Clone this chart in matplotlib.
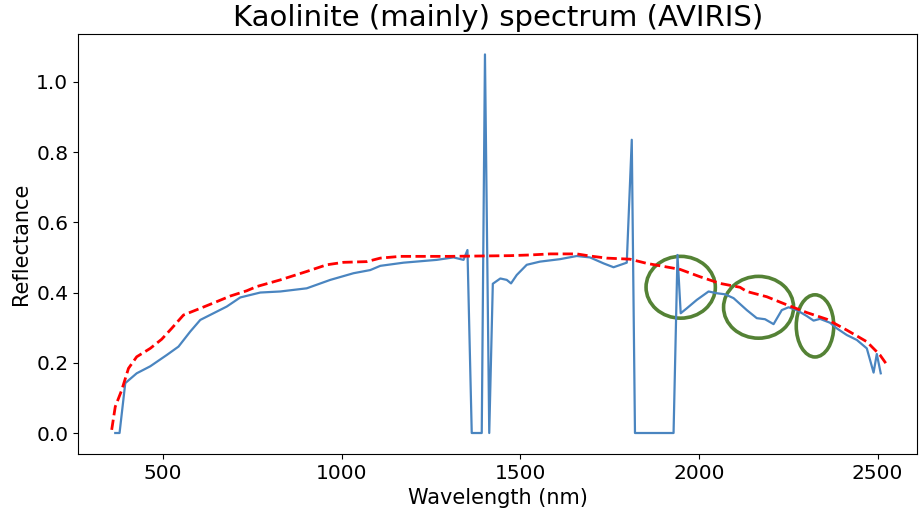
import matplotlib
matplotlib.use("Agg")
import matplotlib.pyplot as plt
from matplotlib.patches import Ellipse

# AVIRIS spectrum (blue)
wavelength = [366, 378, 394, 426, 464, 510, 543, 576, 604, 641, 678, 716, 772, 828,
              902, 968, 1033, 1080, 1108, 1173, 1266, 1313, 1341, 1352, 1364, 1392,
              1401, 1413, 1423, 1444, 1462, 1474, 1490, 1518, 1555, 1611, 1658, 1695,
              1733, 1761, 1798, 1812, 1821, 1929, 1940, 1949, 1966, 1994, 2027, 2050,
              2073, 2097, 2134, 2162, 2185, 2209, 2232, 2251, 2274, 2302, 2321, 2339,
              2367, 2386, 2414, 2442, 2470, 2489, 2498, 2509]
reflectance = [0, 0, 0.142, 0.17, 0.19, 0.222, 0.246, 0.289, 0.322, 0.341, 0.36, 0.386,
               0.40, 0.403, 0.412, 0.436, 0.455, 0.464, 0.476, 0.485, 0.493, 0.50, 0.493,
               0.521, 0, 0, 1.078, 0, 0.425, 0.44, 0.436, 0.426, 0.45, 0.479, 0.488,
               0.495, 0.504, 0.50, 0.483, 0.472, 0.485, 0.835, 0, 0, 0.507, 0.341, 0.355,
               0.379, 0.403, 0.398, 0.395, 0.384, 0.35, 0.327, 0.324, 0.31, 0.35, 0.358,
               0.35, 0.333, 0.32, 0.325, 0.314, 0.298, 0.279, 0.265, 0.241, 0.172, 0.225,
               0.17]

# library spectrum (red dashed)
wavelength_ref = [356, 366, 384, 403, 426, 464, 496, 524, 557, 604, 650, 688, 734, 762,
                  828, 902, 958, 1005, 1070, 1108, 1164, 1300, 1471, 1528, 1584, 1658,
                  1695, 1742, 1807, 1854, 1947, 2003, 2059, 2115, 2134, 2190, 2246, 2302,
                  2358, 2414, 2470, 2507, 2530]
reflectance_ref = [0.009, 0.075, 0.122, 0.184, 0.217, 0.241, 0.267, 0.298, 0.336, 0.355,
                   0.374, 0.39, 0.405, 0.417, 0.436, 0.46, 0.479, 0.486, 0.488, 0.498,
                   0.503, 0.503, 0.505, 0.507, 0.51, 0.51, 0.504, 0.498, 0.495, 0.483,
                   0.466, 0.445, 0.426, 0.415, 0.403, 0.388, 0.365, 0.343, 0.324, 0.293,
                   0.26, 0.222, 0.189]

# absorption features marked with ellipses: (centre wl, centre refl, width nm, height)
features = [(1949, 0.415, 194, 0.176),
            (2167, 0.358, 196, 0.176),
            (2325, 0.305, 105, 0.177)]

fig = plt.figure(figsize=(9.19, 5.16), dpi=100)
ax = fig.add_axes([0.085, 0.12, 0.913, 0.814])

ax.plot(wavelength, reflectance, color="#4a85c0", linewidth=1.6)
ax.plot(wavelength_ref, reflectance_ref, "r--", linewidth=2)

for cx, cy, w, h in features:
    ax.add_patch(Ellipse((cx, cy), w, h, fill=False, edgecolor="#548235", linewidth=2.6))

ax.set_xlim(262, 2611)
ax.set_ylim(-0.06, 1.136)
ax.set_xticks([500, 1000, 1500, 2000, 2500])
ax.set_yticks([0.0, 0.2, 0.4, 0.6, 0.8, 1.0])
ax.tick_params(labelsize=14.5)

ax.set_xlabel("Wavelength (nm)", fontsize=15)
ax.set_ylabel("Reflectance", fontsize=15)
ax.set_title("Kaolinite (mainly) spectrum (AVIRIS)", fontsize=21)

fig.savefig("out.png", dpi=100)
